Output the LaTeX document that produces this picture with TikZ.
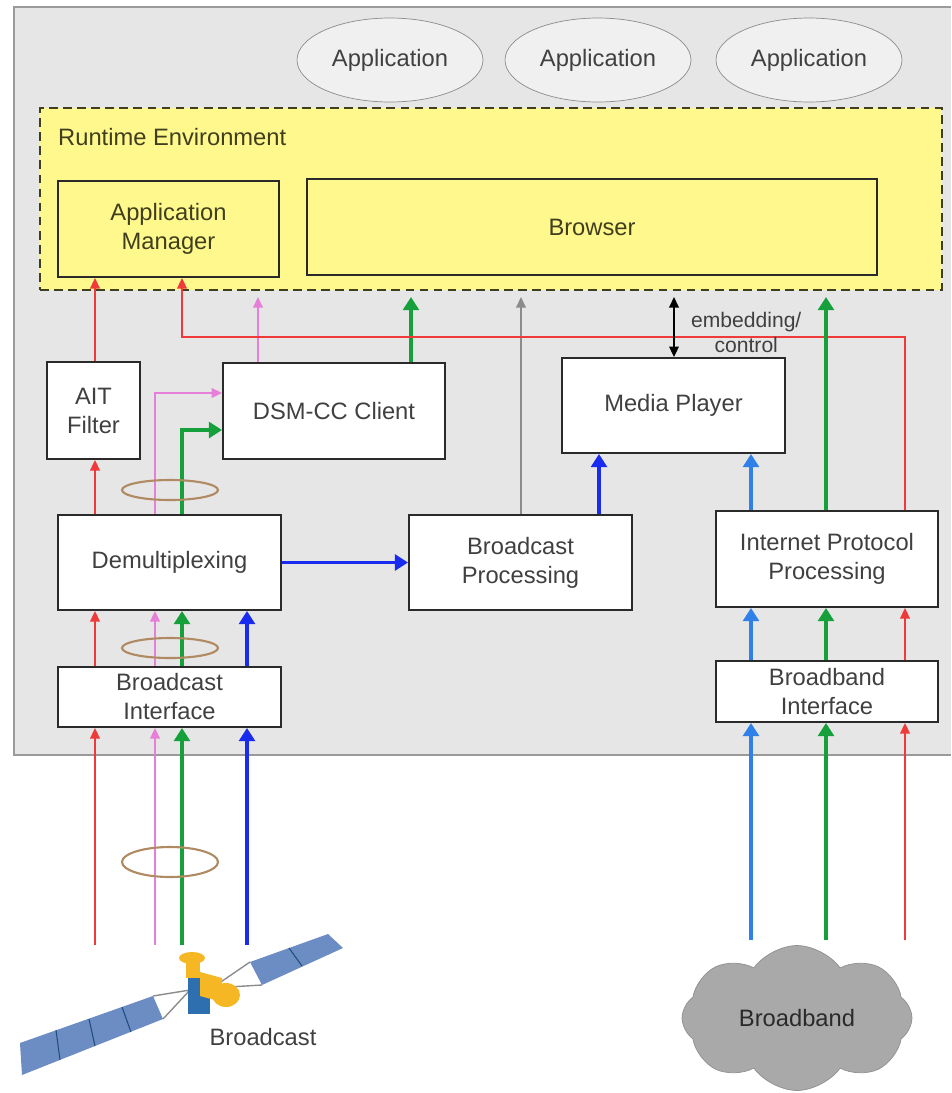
\documentclass[tikz,border=0pt]{standalone}
\usepackage{fontspec}
\setmainfont{Liberation Sans}
\usetikzlibrary{arrows.meta,shapes.geometric,shapes.symbols}
\definecolor{vback}{HTML}{E6E6E6}
\definecolor{vframe}{HTML}{9A9A9A}
\definecolor{vyellow}{HTML}{FFF88C}
\definecolor{volive}{HTML}{3F3F1F}
\definecolor{vblack}{HTML}{2A2A2A}
\definecolor{vtext}{HTML}{404040}
\definecolor{vred}{HTML}{F03A3A}
\definecolor{vpink}{HTML}{E67FD8}
\definecolor{vgreen}{HTML}{16A03C}
\definecolor{vblue}{HTML}{1A2BF0}
\definecolor{vsky}{HTML}{2F80E8}
\definecolor{vgray}{HTML}{8C8C8C}
\definecolor{vring}{HTML}{B08A62}
\definecolor{vappfill}{HTML}{F0F0F0}
\definecolor{vcloud}{HTML}{A9A9A9}
\definecolor{vpanel}{HTML}{6C8CC4}
\definecolor{vsatblue}{HTML}{2E6FB0}
\definecolor{vgold}{HTML}{F5B824}

\tikzset{
	blockbox/.style = {draw = vblack, line width = 1.1pt, fill = white, text = vtext, align = center, inner sep = 0pt, font = \fontsize{13.5}{16.5}\selectfont},
	rtbox/.style = {blockbox, fill = vyellow, text = volive},
	appnode/.style = {ellipse, draw = vgray, fill = vappfill, text = vtext, minimum width = 3.72cm, minimum height = 1.68cm, inner sep = 0pt, font = \fontsize{13.5}{16}\selectfont},
	flowthin/.style = {line width = 0.9pt, -{Triangle[width = 5.5pt, length = 6pt]}},
	flowfat/.style = {line width = 2.2pt, -{Triangle[width = 9pt, length = 7.5pt]}},
	ring/.style = {draw = vring, line width = 1.2pt},
}

\begin{document}
\begin{tikzpicture}[x = 0.02cm, y = -0.02cm]
	\useasboundingbox (0,0) rectangle (952,1093);
	% background
	\fill[vback] (14,7) rectangle (951,755);
	\draw[vframe, line width = 0.8pt] (951,7) -- (14,7) -- (14,755) -- (951,755);
	% applications
	\node[appnode] (app1) at (390,60) {Application};
	\node[appnode] (app2) at (598,60) {Application};
	\node[appnode] (app3) at (809,60) {Application};
	% runtime environment
	\node[draw = volive, line width = 1.1pt, dash pattern = on 5pt off 3pt, fill = vyellow, minimum width = 18.04cm, minimum height = 3.64cm] (rte) at (491,199) {};
	\node[anchor = west, text = volive, font = \fontsize{13.5}{16}\selectfont] (rtelabel) at (52,137) {Runtime Environment};
	\node[rtbox, minimum width = 4.42cm, minimum height = 1.92cm] (appmgr) at (168.5,229) {Application\\Manager};
	\node[rtbox, minimum width = 11.4cm, minimum height = 1.92cm] (browser) at (592,227) {Browser};
	% boxes
	\node[blockbox, minimum width = 1.86cm, minimum height = 1.94cm] (ait) at (93.5,410.5) {AIT\\Filter};
	\node[blockbox, minimum width = 4.44cm, minimum height = 1.92cm] (dsmcc) at (334,411) {DSM-CC Client};
	\node[blockbox, minimum width = 4.46cm, minimum height = 1.9cm] (player) at (673.5,405.5) {Media Player};
	\node[blockbox, minimum width = 4.46cm, minimum height = 1.9cm] (demux) at (169.5,562.5) {Demultiplexing};
	\node[blockbox, minimum width = 4.46cm, minimum height = 1.9cm] (bproc) at (520.5,562.5) {Broadcast\\Processing};
	\node[blockbox, minimum width = 4.44cm, minimum height = 1.92cm] (ipproc) at (827,559) {Internet Protocol\\Processing};
	\node[blockbox, minimum width = 4.46cm, minimum height = 1.2cm] (bif) at (169.5,697) {Broadcast\\Interface};
	\node[blockbox, minimum width = 4.44cm, minimum height = 1.22cm] (bbif) at (827,691.5) {Broadband\\Interface};
	% columns and levels
	\coordinate (xr) at (95,0);
	\coordinate (xp) at (155,0);
	\coordinate (xg) at (182,0);
	\coordinate (xb) at (247,0);
	\coordinate (xq) at (258,0);
	\coordinate (xs) at (411,0);
	\coordinate (xw) at (521,0);
	\coordinate (xv) at (599,0);
	\coordinate (xk) at (674,0);
	\coordinate (xl) at (751,0);
	\coordinate (xn) at (826,0);
	\coordinate (xe) at (905,0);
	\coordinate (top) at (0,297);
	\coordinate (turn) at (0,337);
	\coordinate (pk) at (0,393);
	\coordinate (gk) at (0,430);
	\coordinate (sat) at (0,945);
	\coordinate (net) at (0,940);
	% arrows-1 broadcast side
	\draw[flowthin, vred] (sat -| xr) -- (bif.south -| xr);
	\draw[flowthin, vpink] (sat -| xp) -- (bif.south -| xp);
	\draw[flowfat, vgreen] (sat -| xg) -- (bif.south -| xg);
	\draw[flowfat, vblue] (sat -| xb) -- (bif.south -| xb);
	\draw[flowthin, vred] (bif.north -| xr) -- (demux.south -| xr);
	\draw[flowthin, vpink] (bif.north -| xp) -- (demux.south -| xp);
	\draw[flowfat, vgreen] (bif.north -| xg) -- (demux.south -| xg);
	\draw[flowfat, vblue] (bif.north -| xb) -- (demux.south -| xb);
	\draw[flowthin, vred] (demux.north -| xr) -- (ait.south -| xr);
	\draw[flowthin, vpink] (demux.north -| xp) |- (pk -| dsmcc.west);
	\draw[flowfat, vgreen] (demux.north -| xg) |- (gk -| dsmcc.west);
	\draw[flowthin, vred] (ait.north -| xr) -- (appmgr.south -| xr);
	\draw[flowfat, vblue] (demux.east) -- (bproc.west);
	% arrows-2 towards runtime
	\draw[flowthin, vpink] (dsmcc.north -| xq) -- (top -| xq);
	\draw[flowfat, vgreen] (dsmcc.north -| xs) -- (top -| xs);
	\draw[flowthin, vgray] (bproc.north -| xw) -- (top -| xw);
	\draw[flowthin, vred] (ipproc.north -| xe) |- (turn -| xg) -- (appmgr.south -| xg);
	\draw[flowfat, vgreen] (ipproc.north -| xn) -- (top -| xn);
	\draw[line width = 0.9pt, black, {Triangle[width = 5.5pt, length = 6pt]}-{Triangle[width = 5.5pt, length = 6pt]}] (top -| xk) -- (player.north -| xk) node[midway, right = 6pt, yshift = -3pt, text = vtext, align = center, font = \fontsize{12}{14}\selectfont]{embedding/\\control};
	\draw[flowfat, vblue] (bproc.north -| xv) -- (player.south -| xv);
	\draw[flowfat, vsky] (ipproc.north -| xl) -- (player.south -| xl);
	% arrows-3 broadband side
	\draw[flowfat, vsky] (net -| xl) -- (bbif.south -| xl);
	\draw[flowfat, vgreen] (net -| xn) -- (bbif.south -| xn);
	\draw[flowthin, vred] (net -| xe) -- (bbif.south -| xe);
	\draw[flowfat, vsky] (bbif.north -| xl) -- (ipproc.south -| xl);
	\draw[flowfat, vgreen] (bbif.north -| xn) -- (ipproc.south -| xn);
	\draw[flowthin, vred] (bbif.north -| xe) -- (ipproc.south -| xe);
	% rings
	\draw[ring] (170,490) ellipse (48 and 10);
	\draw[ring] (170,648) ellipse (48 and 10);
	\draw[ring] (170,862) ellipse (48 and 15);
	% satellite
	\fill[vpanel] (20,1043) -- (153,996) -- (163,1019) -- (22,1075) -- cycle;
	\draw[vsatblue!70!black, line width = 0.6pt] (56,1030) -- (60,1060) (89,1019) -- (95,1046) (122,1007) -- (131,1032);
	\draw[vgray, line width = 0.8pt] (153,996) -- (190,990) -- (163,1019);
	\fill[vpanel] (250,962) -- (328,934) -- (343,948) -- (262,985) -- cycle;
	\draw[vsatblue!70!black, line width = 0.6pt] (289,948) -- (302,966);
	\draw[vgray, line width = 0.8pt] (250,962) -- (212,988) -- (262,985);
	\fill[vsatblue] (188,976) rectangle (210,1014);
	\fill[vgold] (192,958) ellipse (13 and 6);
	\fill[vgold] (186,962) rectangle (200,978);
	\fill[vgold] (200,972) -- (222,978) -- (222,1002) -- (200,996) -- cycle;
	\fill[vgold] (226,995) ellipse (14 and 12);
	\node[text = vtext, font = \fontsize{13.5}{16}\selectfont] (satlabel) at (263,1037) {Broadcast};
	% cloud
	\node[cloud, cloud puffs = 8, cloud puff arc = 110, aspect = 1.6, fill = vcloud, draw = vcloud!85!black, text = vblack, minimum width = 4.6cm, minimum height = 2.9cm, font = \fontsize{13.5}{16}\selectfont] (bband) at (797,1018) {Broadband};
\end{tikzpicture}
\end{document}
